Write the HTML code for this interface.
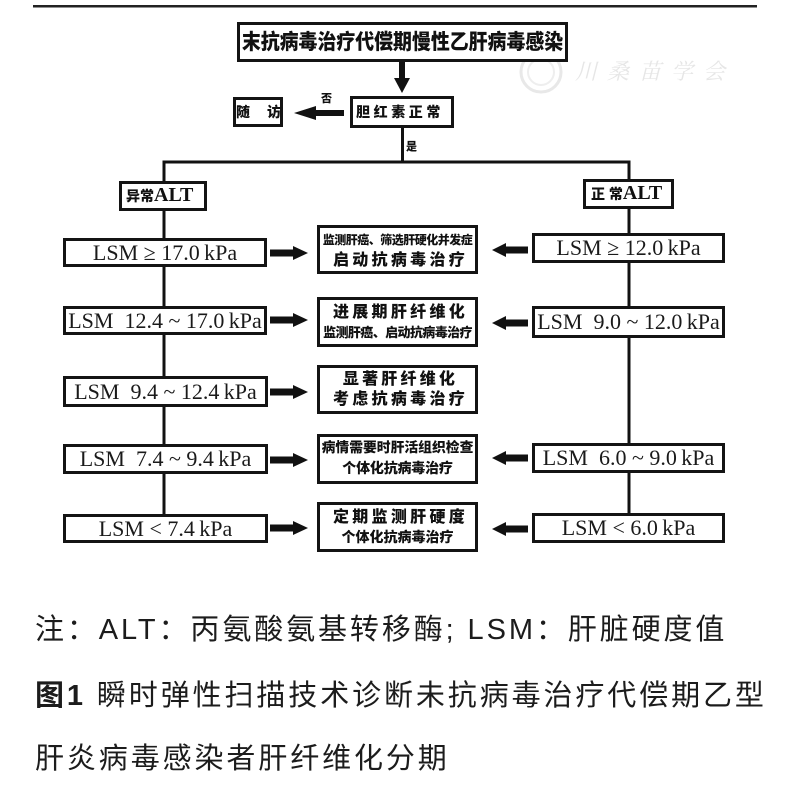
<!DOCTYPE html>
<html>
<head>
<meta charset="utf-8">
<style>
  html,body{margin:0;padding:0;background:#fff;}
  body{width:791px;height:800px;position:relative;overflow:hidden;}
  .box{position:absolute;box-sizing:border-box;border:3px solid #141414;background:#fff;}
  .t{position:absolute;white-space:nowrap;line-height:1;text-align:center;font-family:"Liberation Sans","Noto Sans CJK SC",sans-serif;font-weight:900;color:#111;}
  .lsm{position:absolute;box-sizing:border-box;border:3px solid #141414;background:#fff;display:flex;align-items:center;justify-content:center;font-family:"Liberation Serif","DejaVu Serif",serif;font-size:22px;color:#1a1a1a;white-space:nowrap;line-height:1;}
  .cap{position:absolute;left:35px;white-space:nowrap;font-family:"Liberation Sans","Noto Sans CJK SC",sans-serif;font-size:29px;line-height:29px;letter-spacing:2.9px;color:#1c1c1c;}
</style>
</head>
<body>
<svg width="791" height="800" style="position:absolute;left:0;top:0" xmlns="http://www.w3.org/2000/svg">
  <rect x="33" y="5" width="724" height="2.5" fill="#222"/>
  <circle cx="541" cy="72" r="20" fill="none" stroke="#e8e8e8" stroke-width="3"/>
  <circle cx="541" cy="72" r="13" fill="none" stroke="#eeeeee" stroke-width="2"/>
  <rect x="399" y="62" width="6" height="17" fill="#111"/>
  <polygon points="394,78 410,78 402,93" fill="#111"/>
  <rect x="312" y="110" width="32" height="6" fill="#111"/>
  <polygon points="316,106 316,120 294,113" fill="#111"/>
  <rect x="401" y="127" width="3" height="36" fill="#111"/>
  <rect x="162.5" y="160.5" width="468" height="3" fill="#111"/>
  <rect x="162.5" y="160.5" width="3" height="355" fill="#111"/>
  <rect x="627.5" y="160.5" width="3" height="354" fill="#111"/>
  <g fill="#111">
    <rect x="270" y="249.5" width="25" height="7"/><polygon points="293,246 293,260 308,253"/>
    <rect x="270" y="316.5" width="25" height="7"/><polygon points="293,313 293,327 308,320"/>
    <rect x="270" y="388.5" width="25" height="7"/><polygon points="293,385 293,399 308,392"/>
    <rect x="270" y="456.5" width="25" height="7"/><polygon points="293,453 293,467 308,460"/>
    <rect x="270" y="524.5" width="25" height="7"/><polygon points="293,521 293,535 308,528"/>
  </g>
  <g fill="#111">
    <rect x="504" y="246.5" width="24" height="7"/><polygon points="506,243 506,257 492,250"/>
    <rect x="504" y="319.5" width="24" height="7"/><polygon points="506,316 506,330 492,323"/>
    <rect x="504" y="454.5" width="24" height="7"/><polygon points="506,451 506,465 492,458"/>
    <rect x="504" y="525.5" width="24" height="7"/><polygon points="506,522 506,536 492,529"/>
  </g>
</svg>

<div style="position:absolute;left:575px;top:60px;font-family:'Noto Serif CJK SC',serif;font-size:22px;font-style:italic;color:#e6e6e6;letter-spacing:10px;white-space:nowrap;line-height:1;">川桑苗学会</div>

<!-- title -->
<div class="box" style="left:237px;top:22px;width:331px;height:40px;"></div>
<div class="t" style="left:202px;top:32px;width:401px;font-size:21px;transform:scaleX(0.9);">末抗病毒治疗代偿期慢性乙肝病毒感染</div>

<!-- 胆红素正常 -->
<div class="box" style="left:350px;top:96px;width:104px;height:32px;"></div>
<div class="t" style="left:356px;top:105px;font-size:14px;letter-spacing:3.6px;">胆红素正常</div>

<!-- 随访 -->
<div class="box" style="left:233px;top:97px;width:50px;height:30px;"></div>
<div class="t" style="left:236px;top:105px;font-size:14px;letter-spacing:17px;">随访</div>

<div class="t" style="left:321px;top:94px;font-size:11px;">否</div>
<div class="t" style="left:406px;top:142px;font-size:11px;">是</div>

<!-- ALT boxes -->
<div class="box" style="left:119px;top:181px;width:88px;height:30px;"></div>
<div class="t" style="left:126px;top:186px;font-size:14px;line-height:19px;">异常<span style="font-family:'Liberation Serif',serif;font-weight:700;font-size:20px;">ALT</span></div>

<div class="box" style="left:583px;top:179px;width:91px;height:30px;"></div>
<div class="t" style="left:591px;top:184px;font-size:14px;line-height:19px;">正&nbsp;常<span style="font-family:'Liberation Serif',serif;font-weight:700;font-size:20px;">ALT</span></div>

<!-- left column -->
<div class="lsm" style="left:63px;top:238px;width:204px;height:29px;">LSM ≥ 17.0&#8201;kPa</div>
<div class="lsm" style="left:63px;top:306px;width:204px;height:29px;">LSM&nbsp; 12.4 ~ 17.0&#8201;kPa</div>
<div class="lsm" style="left:63px;top:376px;width:205px;height:31px;">LSM&nbsp; 9.4 ~ 12.4&#8201;kPa</div>
<div class="lsm" style="left:63px;top:444px;width:205px;height:30px;">LSM&nbsp; 7.4 ~ 9.4&#8201;kPa</div>
<div class="lsm" style="left:63px;top:514px;width:205px;height:29px;">LSM &lt; 7.4&#8201;kPa</div>

<!-- right column -->
<div class="lsm" style="left:532px;top:233px;width:193px;height:30px;">LSM ≥ 12.0&#8201;kPa</div>
<div class="lsm" style="left:532px;top:306px;width:193px;height:32px;">LSM&nbsp; 9.0 ~ 12.0&#8201;kPa</div>
<div class="lsm" style="left:532px;top:443px;width:193px;height:30px;">LSM&nbsp; 6.0 ~ 9.0&#8201;kPa</div>
<div class="lsm" style="left:532px;top:513px;width:193px;height:30px;">LSM &lt; 6.0&#8201;kPa</div>

<!-- middle boxes -->
<div class="box" style="left:317px;top:225px;width:161px;height:49px;"></div>
<div class="t" style="left:317px;top:234px;width:161px;font-size:12px;letter-spacing:-0.5px;">监测肝癌、筛选肝硬化并发症</div>
<div class="t" style="left:320px;top:253px;width:161px;font-size:16px;letter-spacing:3.3px;">启动抗病毒治疗</div>

<div class="box" style="left:317px;top:297px;width:161px;height:50px;"></div>
<div class="t" style="left:320px;top:305px;width:161px;font-size:16px;letter-spacing:3.3px;">进展期肝纤维化</div>
<div class="t" style="left:317px;top:326px;width:161px;font-size:13px;letter-spacing:-0.6px;">监测肝癌、启动抗病毒治疗</div>

<div class="box" style="left:317px;top:365px;width:161px;height:49px;"></div>
<div class="t" style="left:320px;top:372px;width:161px;font-size:16px;letter-spacing:3.2px;">显著肝纤维化</div>
<div class="t" style="left:320px;top:392px;width:161px;font-size:16px;letter-spacing:3.3px;">考虑抗病毒治疗</div>

<div class="box" style="left:317px;top:434px;width:161px;height:50px;"></div>
<div class="t" style="left:317px;top:441px;width:161px;font-size:13.8px;letter-spacing:0px;">病情需要时肝活组织检查</div>
<div class="t" style="left:317px;top:461px;width:161px;font-size:14px;letter-spacing:-0.2px;">个体化抗病毒治疗</div>

<div class="box" style="left:317px;top:502px;width:161px;height:50px;"></div>
<div class="t" style="left:320px;top:510px;width:161px;font-size:16px;letter-spacing:3.3px;">定期监测肝硬度</div>
<div class="t" style="left:317px;top:530px;width:161px;font-size:14px;letter-spacing:0px;">个体化抗病毒治疗</div>

<!-- caption -->
<div class="cap" style="top:616px;">注：ALT：丙氨酸氨基转移酶; LSM：肝脏硬度值</div>
<div class="cap" style="top:682px;"><b>图1</b> 瞬时弹性扫描技术诊断未抗病毒治疗代偿期乙型</div>
<div class="cap" style="top:745px;">肝炎病毒感染者肝纤维化分期</div>
</body>
</html>
